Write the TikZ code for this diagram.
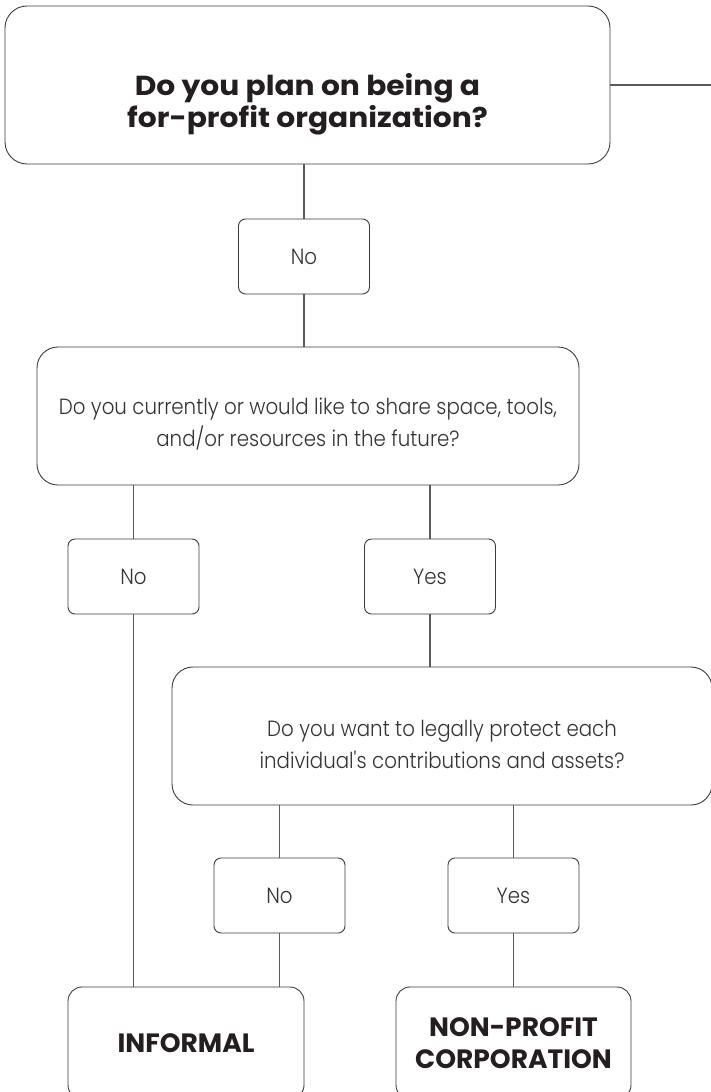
\documentclass[tikz,border=0pt]{standalone}
\usepackage{fontspec}
\setmainfont{Poppins}
\newfontfamily\thinfont{Poppins Light}[FakeStretch=0.9]
\newfontfamily\widebold{Poppins}[FakeStretch=1.08]
\usetikzlibrary{positioning}
\definecolor{linec}{HTML}{5A5A5A}
\definecolor{boxc}{HTML}{3C3C3C}
\definecolor{inkc}{HTML}{231F20}
\definecolor{thinc}{HTML}{333333}

\begin{document}
\begin{tikzpicture}[x=1pt,y=-1pt,box/.style={draw=boxc,line width=.9pt,rounded corners=#1,inner sep=0pt,align=center},qbox/.style={box=21pt,minimum height=138pt},ans/.style={box=7pt,minimum width=131pt,minimum height=75pt,font=\thinfont\fontsize{22}{26}\selectfont,text=thinc},qtext/.style={font=\thinfont\fontsize{22}{32}\selectfont,text=thinc,align=center},btext/.style={font=\bfseries\fontsize{26.5}{32}\selectfont,text=inkc,align=center},link/.style={draw=linec,line width=1.1pt}]
\useasboundingbox (0,0) rectangle (711,1092);
% questions
\node[box=22pt,minimum width=605pt,minimum height=158pt,label={[btext,font=\widebold\bfseries\fontsize{27.5}{32}\selectfont,yshift=-19pt]center:{Do you plan on being a\\for-profit organization?}}] (q1) at (307.5,85) {};
\coordinate (exit) at (711,85);
\node[qbox,minimum width=542pt,label={[qtext,yshift=-8pt]center:{Do you currently or would like to share space, tools,\\and/or resources in the future?}}] (q2) at (308,416) {};
\node[qbox,minimum width=540pt,label={[qtext,yshift=-8pt]center:{Do you want to legally protect each\\individual's contributions and assets?}}] (q3) at (442,736) {};
% answers
\node[ans] (n1) at (304,256.5) {No};
\node[ans] (n2) at (133.5,576.5) {No};
\node[ans] (y2) at (430,576.5) {Yes};
\node[ans] (n3) at (279.5,895.5) {No};
\node[ans] (y3) at (513.5,895.5) {Yes};
% outcomes
\node[box=14pt,minimum width=236pt,minimum height=112pt,btext] (inf) at (186,1043) {INFORMAL};
\node[box=14pt,minimum width=235pt,minimum height=112pt,btext] (npc) at (513.5,1043) {NON-PROFIT\\CORPORATION};
\draw[link] (q1.east)--(exit);
\foreach \a/\b in {q1/n1,q2/n2,q2/y2,q3/n3,q3/y3} \draw[link] (\b.north|-\a.south)--(\b.north);
\foreach \a/\b in {n1/q2,n2/inf,y2/q3,n3/inf,y3/npc} \draw[link] (\a.south)--(\a.south|-\b.north);
\end{tikzpicture}
\end{document}
